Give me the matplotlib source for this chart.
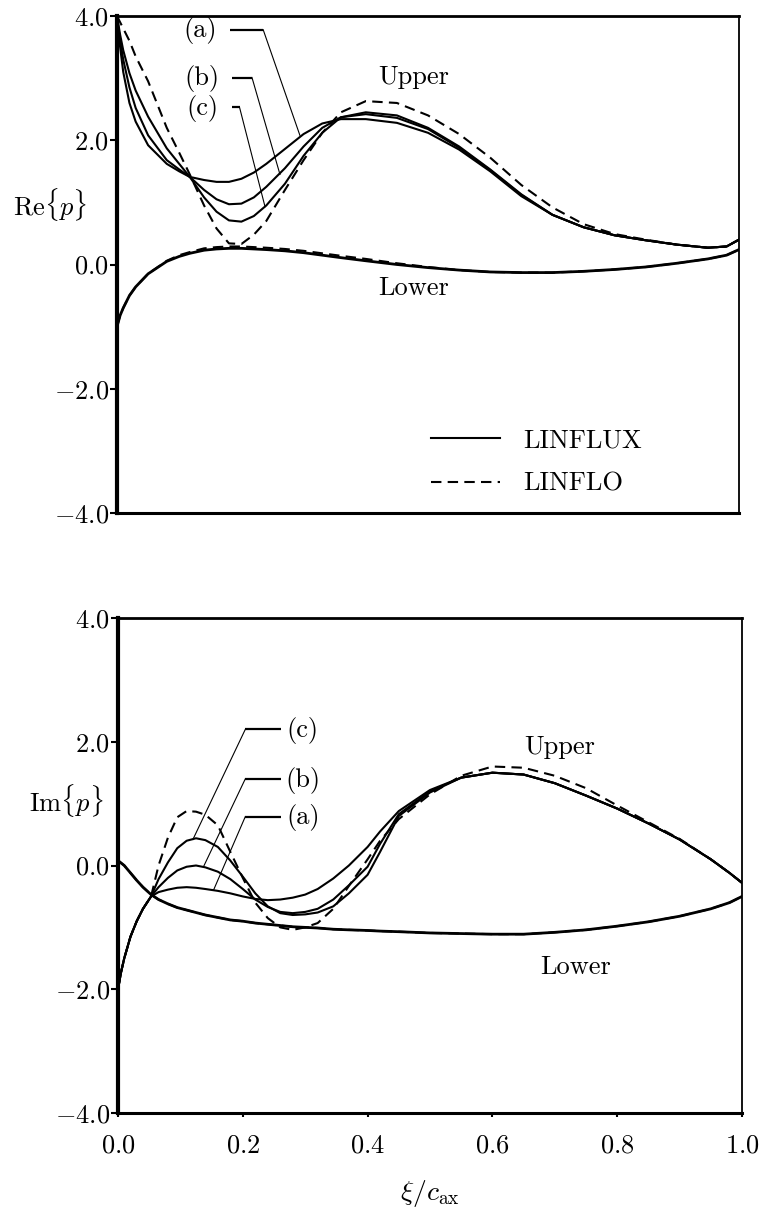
import matplotlib
matplotlib.use("Agg")
import matplotlib.pyplot as plt

plt.rcParams['font.family'] = ['cmr10', 'DejaVu Serif']
plt.rcParams['mathtext.fontset'] = 'cm'
plt.rcParams['axes.formatter.use_mathtext'] = True

# ---- top panel: Re{p} ----
x_re = [0, 0.005, 0.01, 0.02, 0.03, 0.05, 0.08, 0.1, 0.117, 0.14, 0.16, 0.18, 0.2, 0.22,
        0.24, 0.27, 0.3, 0.33, 0.36, 0.4, 0.45, 0.5, 0.55, 0.6, 0.65, 0.7, 0.75, 0.8,
        0.85, 0.9, 0.95, 0.98, 1.0]
re_a = [4.0, 3.5, 3.1, 2.6, 2.3, 1.92, 1.62, 1.5, 1.41, 1.36, 1.33, 1.33, 1.38, 1.48,
        1.62, 1.86, 2.1, 2.27, 2.34, 2.34, 2.28, 2.12, 1.85, 1.5, 1.1, 0.8, 0.6, 0.47,
        0.39, 0.32, 0.27, 0.29, 0.4]
re_b = [4.0, 3.6, 3.3, 2.85, 2.52, 2.08, 1.68, 1.53, 1.41, 1.2, 1.05, 0.97, 0.98, 1.08,
        1.25, 1.55, 1.9, 2.2, 2.37, 2.42, 2.36, 2.18, 1.88, 1.52, 1.12, 0.8, 0.6, 0.47,
        0.39, 0.32, 0.27, 0.29, 0.4]
re_c = [4.0, 3.7, 3.45, 3.08, 2.8, 2.38, 1.87, 1.62, 1.41, 1.08, 0.85, 0.71, 0.69, 0.78,
        0.95, 1.3, 1.75, 2.12, 2.37, 2.45, 2.4, 2.2, 1.9, 1.53, 1.13, 0.8, 0.6, 0.47,
        0.39, 0.32, 0.27, 0.29, 0.4]
re_flo = [4.0, 3.9, 3.8, 3.6, 3.35, 2.95, 2.2, 1.8, 1.45, 0.95, 0.58, 0.34, 0.33, 0.48,
          0.7, 1.2, 1.68, 2.12, 2.45, 2.63, 2.6, 2.4, 2.1, 1.72, 1.28, 0.92, 0.65, 0.49,
          0.4, 0.32, 0.27, 0.29, 0.4]
re_low = [-1.0, -0.82, -0.7, -0.5, -0.36, -0.15, 0.05, 0.13, 0.18, 0.23, 0.25, 0.26, 0.26,
          0.25, 0.24, 0.22, 0.19, 0.15, 0.11, 0.06, 0.0, -0.05, -0.09, -0.12, -0.13, -0.13,
          -0.11, -0.08, -0.04, 0.02, 0.09, 0.15, 0.24]
re_low_flo = [-1.0, -0.82, -0.7, -0.5, -0.36, -0.15, 0.06, 0.15, 0.2, 0.26, 0.28, 0.29, 0.29,
              0.28, 0.27, 0.25, 0.22, 0.18, 0.14, 0.09, 0.02, -0.04, -0.09, -0.12, -0.13,
              -0.13, -0.11, -0.08, -0.04, 0.02, 0.09, 0.15, 0.24]

# ---- bottom panel: Im{p} ----
x_im = [0, 0.005, 0.01, 0.02, 0.03, 0.04, 0.053, 0.065, 0.08, 0.095, 0.11, 0.125, 0.14,
        0.16, 0.18, 0.2, 0.22, 0.24, 0.26, 0.28, 0.3, 0.32, 0.345, 0.37, 0.4, 0.42, 0.45,
        0.5, 0.55, 0.6, 0.65, 0.7, 0.75, 0.8, 0.85, 0.9, 0.95, 0.98, 1.0]
im_a = [-2.0, -1.72, -1.5, -1.15, -0.9, -0.7, -0.5, -0.43, -0.39, -0.36, -0.35, -0.36, -0.38,
        -0.41, -0.45, -0.5, -0.54, -0.56, -0.55, -0.52, -0.47, -0.38, -0.21, 0.0, 0.3, 0.55,
        0.88, 1.22, 1.42, 1.5, 1.47, 1.33, 1.13, 0.92, 0.68, 0.42, 0.1, -0.12, -0.28]
im_b = [-2.0, -1.72, -1.5, -1.15, -0.9, -0.7, -0.5, -0.35, -0.2, -0.08, -0.02, 0.0, -0.03,
        -0.1, -0.22, -0.38, -0.55, -0.67, -0.75, -0.77, -0.75, -0.7, -0.55, -0.32, -0.02, 0.35,
        0.83, 1.2, 1.42, 1.5, 1.47, 1.33, 1.13, 0.92, 0.68, 0.42, 0.1, -0.12, -0.28]
im_c = [-2.0, -1.72, -1.5, -1.15, -0.9, -0.7, -0.5, -0.22, 0.05, 0.28, 0.4, 0.44, 0.41,
        0.3, 0.08, -0.18, -0.45, -0.66, -0.77, -0.8, -0.79, -0.76, -0.66, -0.45, -0.15, 0.22,
        0.8, 1.18, 1.42, 1.5, 1.47, 1.33, 1.13, 0.92, 0.68, 0.42, 0.1, -0.12, -0.28]
im_flo = [-2.0, -1.72, -1.5, -1.15, -0.9, -0.7, -0.5, 0.0, 0.45, 0.78, 0.88, 0.87, 0.82,
          0.65, 0.22, -0.2, -0.6, -0.85, -1.0, -1.04, -1.0, -0.93, -0.7, -0.33, 0.1, 0.4,
          0.75, 1.15, 1.45, 1.6, 1.58, 1.45, 1.25, 0.97, 0.7, 0.43, 0.1, -0.12, -0.28]
im_low = [0.08, 0.04, 0.0, -0.12, -0.24, -0.35, -0.47, -0.55, -0.62, -0.68, -0.72, -0.76, -0.8,
          -0.84, -0.88, -0.9, -0.93, -0.95, -0.97, -0.99, -1.0, -1.01, -1.03, -1.04, -1.05,
          -1.06, -1.07, -1.09, -1.1, -1.11, -1.11, -1.08, -1.04, -0.98, -0.91, -0.82, -0.7,
          -0.6, -0.5]

yticks = [-4.0, -2.0, 0.0, 2.0, 4.0]
xticks = [0.0, 0.2, 0.4, 0.6, 0.8, 1.0]
case_labels = ['(a)', '(b)', '(c)']

# leader lines: (text x, text y, elbow x, end x, end y)
leaders_re = [(0.133, 3.76, 0.235, 0.294, 2.08),
              (0.137, 2.99, 0.217, 0.262, 1.45),
              (0.137, 2.51, 0.197, 0.238, 0.93)]
leaders_im = [(0.296, 0.77, 0.204, 0.153, -0.40),
              (0.296, 1.38, 0.204, 0.137, -0.02),
              (0.296, 2.18, 0.204, 0.12, 0.42)]

LW = 1.5
DASH = (0, (5, 3))
FS = 19

fig = plt.figure(figsize=(7.67, 12.07), dpi=100)
ax1 = fig.add_axes([117/767, 1 - 513/1207, 622/767, 497/1207])
ax2 = fig.add_axes([118/767, 1 - 1113/1207, 624/767, 495/1207])


def style(ax, show_x):
    ax.set_xlim(0, 1)
    ax.set_ylim(-4, 4)
    ax.set_yticks(yticks)
    ax.set_yticklabels(['$%.1f$' % v for v in yticks])
    ax.tick_params(axis='y', direction='out', length=5, width=1.5, pad=1, labelsize=FS)
    ax.set_xticks(xticks)
    if show_x:
        ax.set_xticklabels(['$%.1f$' % v for v in xticks])
        ax.tick_params(axis='x', direction='out', length=3, width=1.5, pad=12, labelsize=FS)
    else:
        ax.tick_params(axis='x', length=0, labelbottom=False)
    ax.spines['left'].set_linewidth(3)
    ax.spines['bottom'].set_linewidth(2.2)
    ax.spines['top'].set_linewidth(2.0)
    ax.spines['right'].set_linewidth(1.3)


def leaders(ax, items):
    for lab, (tx, ty, ex, px, py) in zip(case_labels, items):
        ax.text(tx, ty, lab, fontsize=FS, ha='center', va='center')
        if tx < ex:
            hx0 = tx + 0.048
        else:
            hx0 = tx - 0.035
        ax.plot([hx0, ex], [ty + 0.02, ty + 0.02], color='black', lw=1.6,
                solid_capstyle='butt')
        ax.plot([ex, px], [ty + 0.02, py], color='black', lw=0.8)


# top panel
style(ax1, False)
ax1.plot(x_re, re_a, 'k-', lw=LW, label='LINFLUX')
ax1.plot(x_re, re_b, 'k-', lw=LW)
ax1.plot(x_re, re_c, 'k-', lw=LW)
ax1.plot(x_re, re_low, 'k-', lw=LW + 0.5)
ax1.plot(x_re, re_flo, color='black', ls=DASH, lw=LW, label='LINFLO')
ax1.plot(x_re, re_low_flo, color='black', ls=DASH, lw=LW)
leaders(ax1, leaders_re)
ax1.text(0.477, 3.02, 'Upper', fontsize=FS, ha='center', va='center')
ax1.text(0.477, -0.38, 'Lower', fontsize=FS, ha='center', va='center')
ax1.text(-0.108, 0.62, r'$\mathrm{Re}\{p\}$', fontsize=FS, ha='center', va='center',
         transform=ax1.transAxes)
ax1.legend(loc='upper left', bbox_to_anchor=(0.505, 0.17), frameon=False, fontsize=FS,
           handlelength=2.6, handletextpad=0.9, labelspacing=0.75, borderpad=0,
           borderaxespad=0)

# bottom panel
style(ax2, True)
ax2.plot(x_im, im_a, 'k-', lw=LW)
ax2.plot(x_im, im_b, 'k-', lw=LW)
ax2.plot(x_im, im_c, 'k-', lw=LW)
ax2.plot(x_im, im_low, 'k-', lw=LW + 0.5)
ax2.plot(x_im, im_flo, color='black', ls=DASH, lw=LW)
ax2.plot(x_im, im_low, color='black', ls=DASH, lw=LW)
leaders(ax2, leaders_im)
ax2.text(0.708, 1.91, 'Upper', fontsize=FS, ha='center', va='center')
ax2.text(0.734, -1.64, 'Lower', fontsize=FS, ha='center', va='center')
ax2.text(-0.083, 0.632, r'$\mathrm{Im}\{p\}$', fontsize=FS, ha='center', va='center',
         transform=ax2.transAxes)
ax2.set_xlabel(r'$\xi/c_{\mathrm{ax}}$', fontsize=FS + 1, labelpad=15)

fig.savefig('out.png', dpi=100)
